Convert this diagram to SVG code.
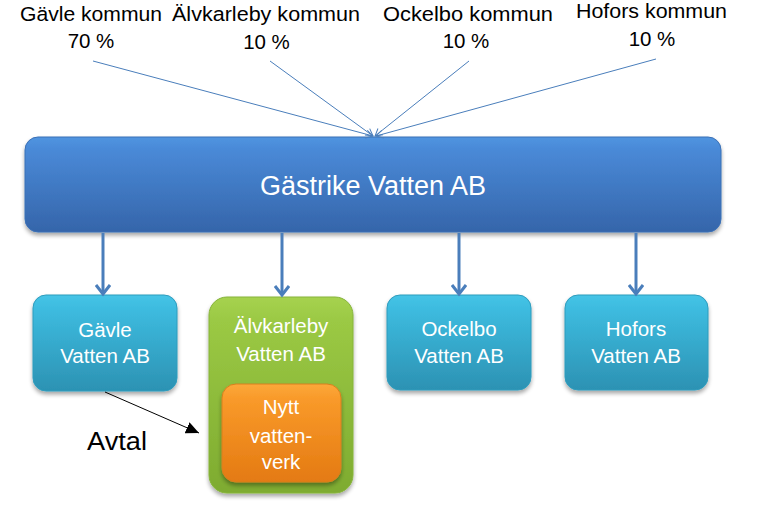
<svg xmlns="http://www.w3.org/2000/svg" width="767" height="509" viewBox="0 0 767 509">
<style>
.lbl{font-family:"Liberation Sans",Arial,sans-serif;font-size:20.5px;fill:#000;text-anchor:middle}
.wt{font-family:"Liberation Sans",Arial,sans-serif;font-size:20.5px;fill:#fff;text-anchor:middle}
.thin{stroke:#4a7ebb;stroke-width:1;fill:none}
.down{stroke:#4a7ebb;stroke-width:3;fill:none}
</style>
<defs>
<linearGradient id="gMain" x1="0" y1="0" x2="0" y2="1">
<stop offset="0" stop-color="#5095e0"/><stop offset="0.12" stop-color="#4a8ad8"/><stop offset="1" stop-color="#3565aa"/>
</linearGradient>
<linearGradient id="gCyan" x1="0" y1="0" x2="0" y2="1">
<stop offset="0" stop-color="#45c4e6"/><stop offset="0.15" stop-color="#3dbbdf"/><stop offset="1" stop-color="#2c92b3"/>
</linearGradient>
<linearGradient id="gGreen" x1="0" y1="0" x2="0" y2="1">
<stop offset="0" stop-color="#a6d24f"/><stop offset="0.12" stop-color="#9bc944"/><stop offset="1" stop-color="#7eab30"/>
</linearGradient>
<linearGradient id="gOrange" x1="0" y1="0" x2="0" y2="1">
<stop offset="0" stop-color="#fca83a"/><stop offset="0.15" stop-color="#f99a2a"/><stop offset="1" stop-color="#e47a12"/>
</linearGradient>
<filter id="sh" x="-10%" y="-10%" width="120%" height="130%">
<feGaussianBlur in="SourceAlpha" stdDeviation="2"/>
<feOffset dx="0" dy="3" result="b"/>
<feComponentTransfer><feFuncA type="linear" slope="0.35"/></feComponentTransfer>
<feMerge><feMergeNode/><feMergeNode in="SourceGraphic"/></feMerge>
</filter>
<marker id="openS" markerWidth="10" markerHeight="10" refX="8" refY="5" orient="auto" markerUnits="userSpaceOnUse">
<path d="M1,1 L8,5 L1,9" fill="none" stroke="#4a7ebb" stroke-width="1"/>
</marker>
<marker id="openB" markerWidth="16" markerHeight="16" refX="10" refY="8" orient="auto" markerUnits="userSpaceOnUse">
<path d="M1,1 L10,8 L1,15" fill="none" stroke="#4a7ebb" stroke-width="3"/>
</marker>
<marker id="tri" markerWidth="14" markerHeight="12" refX="13" refY="6" orient="auto" markerUnits="userSpaceOnUse">
<path d="M0,0 L13,6 L0,12 Z" fill="#000"/>
</marker>
</defs>

<g id="owners">
<g id="gavle-kommun"><text class="lbl" x="91" y="21" textLength="142" lengthAdjust="spacingAndGlyphs">Gävle kommun</text><text class="lbl" x="91" y="48">70 %</text></g>
<g id="alvkarleby-kommun"><text class="lbl" x="266" y="21" textLength="188" lengthAdjust="spacingAndGlyphs">Älvkarleby kommun</text><text class="lbl" x="266.5" y="49">10 %</text></g>
<g id="ockelbo-kommun"><text class="lbl" x="468" y="21" textLength="170" lengthAdjust="spacingAndGlyphs">Ockelbo kommun</text><text class="lbl" x="466" y="48">10 %</text></g>
<g id="hofors-kommun"><text class="lbl" x="651.5" y="18" textLength="151" lengthAdjust="spacingAndGlyphs">Hofors kommun</text><text class="lbl" x="652" y="46">10 %</text></g>
</g>

<g id="gastrike">
<rect x="25" y="137" width="696" height="95" rx="13" fill="url(#gMain)" stroke="#3b70b6" stroke-width="1" filter="url(#sh)"/>
<text class="wt" x="373" y="195" style="font-size:27px">Gästrike Vatten AB</text>
</g>

<g id="gavle-vatten">
<rect x="33" y="295" width="144" height="96" rx="13" fill="url(#gCyan)" stroke="#2e9cbd" stroke-width="1" filter="url(#sh)"/>
<text class="wt" x="105" y="337">Gävle</text><text class="wt" x="105" y="363">Vatten AB</text>
</g>

<g id="alvkarleby-vatten">
<rect x="209" y="297" width="144" height="196" rx="18" fill="url(#gGreen)" stroke="#86b43a" stroke-width="1" filter="url(#sh)"/>
<text class="wt" x="281" y="333">Älvkarleby</text><text class="wt" x="281" y="361">Vatten AB</text>
<g id="nytt-vattenverk">
<rect x="222" y="384" width="119" height="98" rx="14" fill="url(#gOrange)" stroke="#d7801e" stroke-width="1" filter="url(#sh)"/>
<text class="wt" x="281" y="414">Nytt</text><text class="wt" x="281" y="443">vatten-</text><text class="wt" x="281" y="469">verk</text>
</g>
</g>

<g id="ockelbo-vatten">
<rect x="387" y="295" width="144" height="95" rx="13" fill="url(#gCyan)" stroke="#2e9cbd" stroke-width="1" filter="url(#sh)"/>
<text class="wt" x="459" y="336">Ockelbo</text><text class="wt" x="459" y="363">Vatten AB</text>
</g>

<g id="hofors-vatten">
<rect x="565" y="295" width="143" height="95" rx="13" fill="url(#gCyan)" stroke="#2e9cbd" stroke-width="1" filter="url(#sh)"/>
<text class="wt" x="636" y="336">Hofors</text><text class="wt" x="636" y="363">Vatten AB</text>
</g>

<g id="connectors">
<line class="thin" x1="93" y1="61" x2="373" y2="136" marker-end="url(#openS)"/>
<line class="thin" x1="270" y1="61" x2="373" y2="136" marker-end="url(#openS)"/>
<line class="thin" x1="469" y1="61" x2="375" y2="136" marker-end="url(#openS)"/>
<line class="thin" x1="656" y1="59" x2="376" y2="136" marker-end="url(#openS)"/>
<line class="down" x1="103" y1="233" x2="103" y2="294" marker-end="url(#openB)"/>
<line class="down" x1="282" y1="233" x2="282" y2="295" marker-end="url(#openB)"/>
<line class="down" x1="459" y1="233" x2="459" y2="294" marker-end="url(#openB)"/>
<line class="down" x1="636" y1="233" x2="636" y2="294" marker-end="url(#openB)"/>
<line x1="105" y1="392" x2="199" y2="433" stroke="#000" stroke-width="1" marker-end="url(#tri)"/>
<text x="87" y="450" style="font-family:'Liberation Sans',Arial,sans-serif;font-size:26px;fill:#000" textLength="60" lengthAdjust="spacingAndGlyphs">Avtal</text>
</g>
</svg>
